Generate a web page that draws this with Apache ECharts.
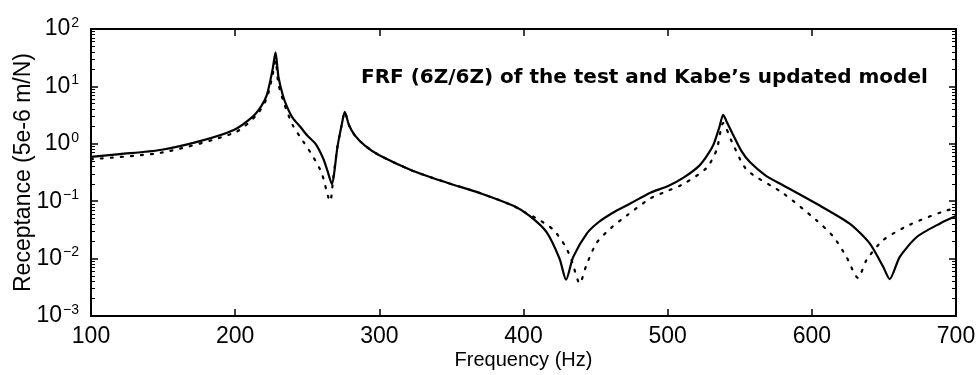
<!DOCTYPE html>
<html>
<head>
<meta charset="utf-8">
<script src="https://cdn.jsdelivr.net/npm/echarts@6/dist/echarts.min.js"></script>
<style>
html,body{margin:0;padding:0;background:#fff;}
#chart{width:978px;height:375px;}
</style>
</head>
<body>
<div id="chart"></div>
<script>
// ---- data ----
var titleText = "FRF (6Z/6Z) of the test and Kabe\u2019s updated model";
var xName = "Frequency (Hz)";
var yName = "Receptance (5e-6 m/N)";
var xTicks = [100, 200, 300, 400, 500, 600, 700];
var yTicks = [1e-3, 1e-2, 1e-1, 1e0, 1e1, 1e2];

// Test FRF (solid)
var testFreq = [100,120,148,175,199,212,218,222,226,228,230,233,236,240,245,250,256,261,264,267,
  271,274,276,279,283,290,300,323,347,370,393,404,416,425,429.5,434.5,444,452,462,474,488,500,
  511,522,528,532,536,538.5,541,545,551,557,568,580,603,626,640,649.5,654,661,673,689,700];
var testVal = [0.59,0.66,0.78,1.10,1.74,2.95,4.5,7.1,20,39,14.8,7.1,4.4,2.8,2.0,1.4,0.98,0.56,0.34,0.20,
  0.9,2.2,3.6,2.1,1.4,0.93,0.63,0.34,0.21,0.138,0.083,0.056,0.029,0.010,0.0043,0.0107,0.0275,0.043,0.063,0.091,0.141,0.182,
  0.257,0.417,0.66,1.0,2.0,3.2,2.4,1.5,0.76,0.48,0.28,0.19,0.091,0.041,0.0186,0.0072,0.0044,0.0107,0.024,0.041,0.055];

// Kabe's updated model FRF (dotted)
var modelFreq = [100,150,200,215,222,226,228,230,234,240,247,254,260,264.5,266,268,271,274,276,279,
  283,290,300,323,347,370,393,400,411,420.6,428.7,433.3,439,443.7,450.6,460,471.5,488,500,511,527,
  534,538.5,545,555,580,603,615,624,632,638,649.5,668,691,700];
var modelVal = [0.54,0.71,1.58,3.2,6.3,16,28,11,5,2.1,1.12,0.6,0.31,0.12,0.10,0.25,0.9,2.2,3.6,2.1,
  1.4,0.93,0.63,0.34,0.21,0.138,0.083,0.066,0.047,0.032,0.017,0.0095,0.0037,0.0078,0.0186,0.033,0.056,0.112,0.151,0.20,0.38,
  0.79,2.3,1.02,0.35,0.138,0.047,0.024,0.0107,0.0046,0.0095,0.021,0.039,0.066,0.076];

function zip(a, b) { return a.map(function (v, i) { return [v, b[i]]; }); }

var FONT = "'Liberation Sans', Arial, Helvetica, sans-serif";
var chart = echarts.init(document.getElementById('chart'), null, {renderer: 'canvas'});

function yLabel(v) {
  var e = Math.round(Math.log10(v));
  var s = e < 0 ? '\u2212' + Math.abs(e) : String(e);
  return '{b|10}{s|' + s + '}';
}

var axisLineStyle = {color: '#000', width: 2};

chart.setOption({
  animation: false,
  backgroundColor: '#fff',
  title: {
    text: titleText,
    left: 356,
    top: 63,
    textStyle: {fontFamily: "'DejaVu Sans', sans-serif", fontSize: 20, fontWeight: 'bold', color: '#000'}
  },
  grid: {left: 91, right: 22, top: 29, bottom: 59, containLabel: false, outerBoundsMode: 'none'},
  xAxis: [{
    type: 'value',
    min: xTicks[0], max: xTicks[xTicks.length - 1], interval: 100,
    position: 'bottom',
    name: xName, nameLocation: 'middle', nameGap: 34, nameMoveOverlap: false,
    nameTextStyle: {fontFamily: FONT, fontSize: 20, color: '#000'},
    axisLine: {show: true, lineStyle: axisLineStyle},
    axisTick: {show: true, inside: true, length: 7, lineStyle: {color: '#000', width: 1.5}},
    axisLabel: {fontFamily: FONT, fontSize: 23, color: '#000', margin: 9},
    splitLine: {show: false}
  }, {
    type: 'value',
    min: xTicks[0], max: xTicks[xTicks.length - 1], interval: 100,
    position: 'top',
    axisLine: {show: true, lineStyle: axisLineStyle},
    axisTick: {show: true, inside: true, length: 7, lineStyle: {color: '#000', width: 1.5}},
    axisLabel: {show: false},
    splitLine: {show: false}
  }],
  yAxis: [{
    type: 'log', logBase: 10,
    min: yTicks[0], max: yTicks[yTicks.length - 1],
    position: 'left',
    name: yName, nameLocation: 'middle', nameGap: 56, nameRotate: 90, nameMoveOverlap: false,
    nameTextStyle: {fontFamily: FONT, fontSize: 23, color: '#000'},
    axisLine: {show: true, lineStyle: axisLineStyle},
    axisTick: {show: true, inside: true, length: 7, lineStyle: {color: '#000', width: 1.5}},
    minorTick: {show: true, splitNumber: 9, length: 4, lineStyle: {color: '#000', width: 1}},
    axisLabel: {
      margin: 12,
      formatter: yLabel,
      rich: {
        b: {fontFamily: FONT, fontSize: 23, color: '#000'},
        s: {fontFamily: FONT, fontSize: 14, color: '#000', verticalAlign: 'top', padding: [0, 0, 12, 1]}
      }
    },
    splitLine: {show: false}
  }, {
    type: 'log', logBase: 10,
    min: yTicks[0], max: yTicks[yTicks.length - 1],
    position: 'right',
    axisLine: {show: true, lineStyle: axisLineStyle},
    axisTick: {show: true, inside: true, length: 7, lineStyle: {color: '#000', width: 1.5}},
    minorTick: {show: true, splitNumber: 9, length: 4, lineStyle: {color: '#000', width: 1}},
    axisLabel: {show: false},
    splitLine: {show: false}
  }],
  series: [{
    name: 'test',
    type: 'line',
    data: zip(testFreq, testVal),
    showSymbol: false,
    smooth: 0.25,
    lineStyle: {color: '#000', width: 2.2, type: 'solid'},
    z: 3
  }, {
    name: 'model',
    type: 'line',
    data: zip(modelFreq, modelVal),
    showSymbol: false,
    smooth: 0.25,
    lineStyle: {color: '#000', width: 2.2, type: [2, 8], cap: 'round'},
    z: 2
  }]
});
</script>
</body>
</html>
